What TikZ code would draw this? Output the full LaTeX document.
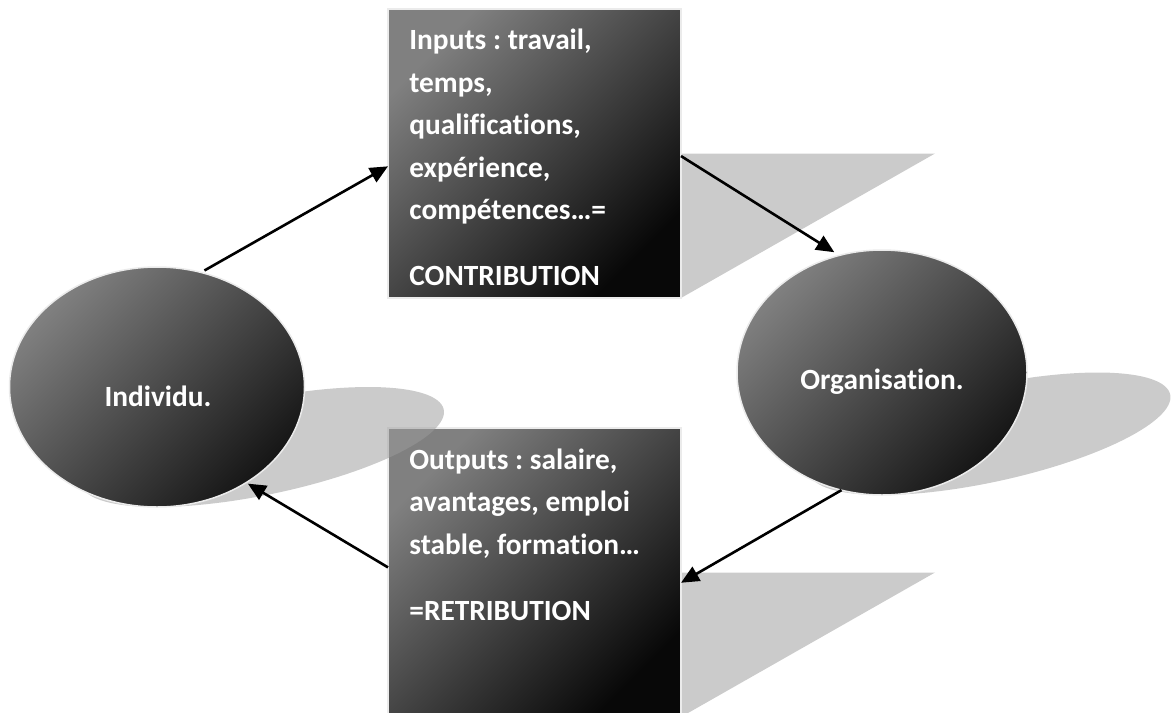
\documentclass[tikz,border=0pt]{standalone}
\usepackage{fontspec}
\setmainfont{Carlito}[Ligatures=NoCommon]
\usetikzlibrary{arrows.meta,shapes.geometric}
\definecolor{shd}{RGB}{155,155,155}
\definecolor{lite}{RGB}{128,128,128}
\definecolor{dark}{RGB}{8,8,8}
\definecolor{darkov}{RGB}{22,22,22}
\definecolor{rim}{RGB}{235,235,235}
\tikzset{
  box/.style={draw=rim, line width=0.75pt, top color=lite, bottom color=dark, shading angle=45,
    minimum width=146.5pt, minimum height=144.5pt, inner sep=0pt, outer sep=0pt},
  oval/.style={ellipse, draw=rim, line width=0.75pt, top color=lite, bottom color=darkov, shading angle=45,
    inner sep=0pt, outer sep=0pt},
  shadowfill/.style={fill=shd, fill opacity=0.52},
  txt/.style={text=white, font=\frenchspacing\bfseries\fontsize{14.67pt}{21.25pt}\selectfont, inner sep=0pt,
    anchor=base west, align=left},
  link/.style={-{Triangle[length=9pt,width=8pt]}, line width=1.3pt, black},
}
\begin{document}
\begin{tikzpicture}[x=0.5pt,y=-0.5pt]
\useasboundingbox (0,0) rectangle (1172,712);
\clip (0,0) rectangle (1172,712);
% box shadows
\fill[shadowfill] (388,298) -- (681,298) -- (935,153.5) -- (642,153.5) -- cycle;
\fill[shadowfill] (388,717) -- (681,717) -- (935,572.5) -- (642,572.5) -- cycle;
% boxes
\node[box] (inp) at (534.5,153.5) {};
\node[box] (outp) at (534.5,572.5) {};
% ellipse shadows and ellipses
\fill[shadowfill] plot[domain=0:360, samples=120] ({157+147.5*cos(\x)+105.6*(1+sin(\x))}, {507-60*(1+sin(\x))}) -- cycle;
\node[oval, minimum width=147.5pt, minimum height=120pt] (ind) at (157,387) {};
\fill[shadowfill] plot[domain=0:360, samples=120] ({882+145*cos(\x)+107.8*(1+sin(\x))}, {495-61.25*(1+sin(\x))}) -- cycle;
\node[oval, minimum width=145pt, minimum height=122.5pt] (org) at (882,372.5) {};
% texts (anchored at the baseline of the last line)
\node[txt] (inptxt) at (409,285.5) {Inputs : travail,\\temps,\\qualifications,\\expérience,\\compétences…=\\[11.75pt]CONTRIBUTION};
\node[txt] (outtxt) at (409,620) {Outputs : salaire,\\avantages, emploi\\stable, formation…\\[11.75pt]=RETRIBUTION};
\node[txt, anchor=base] (indtxt) at (158,406) {Individu.};
\node[txt, anchor=base] (orgtxt) at (882,389) {Organisation.};
% connectors
\draw[link, shorten <=2pt] (ind.69) -- (inp.185.3);
\draw[link, shorten >=3pt] (inp.-1) -- (org.110.7);
\draw[link] (org.-109) -- (outp.-4.5);
\draw[link, shorten >=1pt] (outp.178.2) -- (ind.-47);
\end{tikzpicture}
\end{document}
